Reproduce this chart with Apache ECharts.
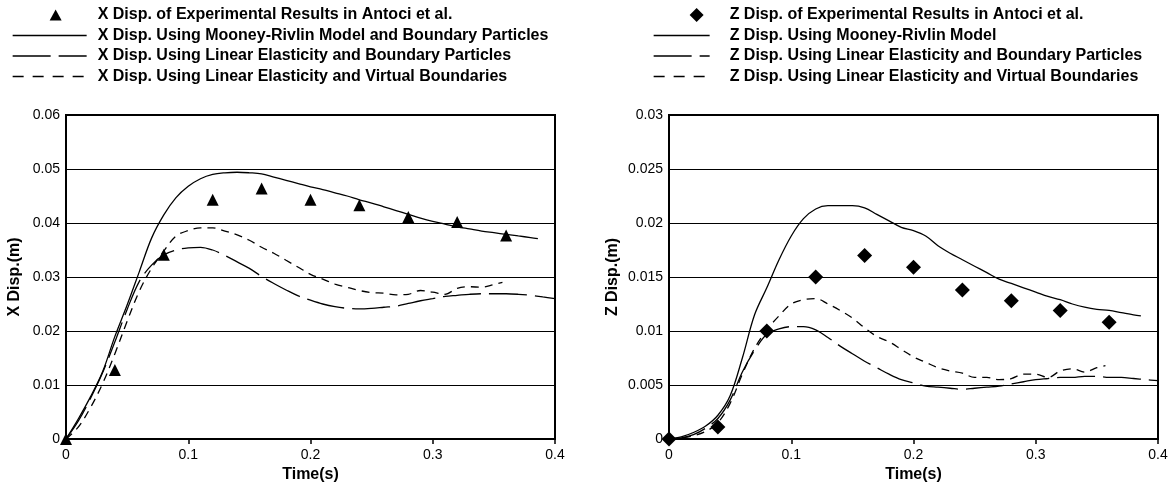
<!DOCTYPE html>
<html>
<head>
<meta charset="utf-8">
<script src="https://cdn.jsdelivr.net/npm/echarts@6/dist/echarts.min.js"></script>
<style>
  html, body { margin: 0; padding: 0; background: #fff; }
  #chart { width: 1173px; height: 490px; }
</style>
</head>
<body>
<div id="chart"></div>
<script>
// ---- Horizontal (X) displacement, m ----
const tExpX = [0, 0.04, 0.08, 0.12, 0.16, 0.20, 0.24, 0.28, 0.32, 0.36];
const xExp  = [0, 0.0128, 0.0341, 0.0443, 0.0464, 0.0443, 0.0433, 0.0411, 0.0402, 0.0377];

const tMooneyX = [0, 0.01, 0.02, 0.03, 0.04, 0.05, 0.06, 0.07, 0.08, 0.09, 0.10, 0.11, 0.12, 0.13, 0.14, 0.15, 0.16, 0.17, 0.18, 0.19, 0.20,
                  0.21, 0.22, 0.23, 0.24, 0.25, 0.26, 0.27, 0.28, 0.29, 0.30, 0.31, 0.32, 0.33, 0.34, 0.35, 0.36, 0.37, 0.38, 0.386];
const xMooney  = [0, 0.0037, 0.0078, 0.0125, 0.0190, 0.0248, 0.0310, 0.0372, 0.0415, 0.0447, 0.0468, 0.0482, 0.0490, 0.0493, 0.0494, 0.0493, 0.0491, 0.0485, 0.0479, 0.0473, 0.0467,
                  0.0462, 0.0456, 0.0450, 0.0443, 0.0437, 0.0430, 0.0423, 0.0416, 0.0409, 0.0403, 0.0398, 0.0393, 0.0389, 0.0385, 0.0382, 0.0379, 0.0376, 0.0373, 0.0371];

const tLinBpX = [0, 0.01, 0.02, 0.03, 0.04, 0.05, 0.06, 0.07, 0.08, 0.09, 0.10, 0.11, 0.12, 0.13, 0.14, 0.15, 0.16, 0.17, 0.18, 0.19, 0.20,
                 0.21, 0.22, 0.23, 0.24, 0.25, 0.26, 0.27, 0.28, 0.29, 0.30, 0.31, 0.32, 0.33, 0.34, 0.35, 0.36, 0.37, 0.38, 0.39, 0.40];
const xLinBp  = [0, 0.0033, 0.0075, 0.0123, 0.0180, 0.0240, 0.0292, 0.0322, 0.0341, 0.0350, 0.0354, 0.0355, 0.0350, 0.0340, 0.0328, 0.0316, 0.0301, 0.0288, 0.0276, 0.0265, 0.0257,
                 0.0250, 0.0245, 0.0242, 0.0241, 0.0242, 0.0244, 0.0246, 0.0251, 0.0256, 0.0260, 0.0264, 0.0266, 0.0268, 0.0269, 0.0269, 0.0269, 0.0268, 0.0266, 0.0263, 0.0260];

const tLinVbX = [0, 0.01, 0.02, 0.03, 0.04, 0.05, 0.06, 0.07, 0.08, 0.09, 0.10, 0.11, 0.12, 0.13, 0.14, 0.15, 0.16, 0.17, 0.18, 0.19, 0.20,
                 0.21, 0.22, 0.23, 0.24, 0.25, 0.26, 0.27, 0.28, 0.29, 0.30, 0.31, 0.32, 0.33, 0.34, 0.35, 0.357];
const xLinVb  = [0, 0.0022, 0.0058, 0.0103, 0.0158, 0.0218, 0.0274, 0.0316, 0.0348, 0.0376, 0.0386, 0.0391, 0.0391, 0.0385, 0.0378, 0.0368, 0.0355, 0.0344, 0.0331, 0.0318, 0.0305,
                 0.0296, 0.0287, 0.0281, 0.0275, 0.0271, 0.0270, 0.0267, 0.0268, 0.0275, 0.0272, 0.0268, 0.0279, 0.0282, 0.0281, 0.0286, 0.0290];

// ---- Vertical (Z) displacement, m ----
const tExpZ = [0, 0.04, 0.08, 0.12, 0.16, 0.20, 0.24, 0.28, 0.32, 0.36];
const zExp  = [0, 0.0011, 0.0100, 0.0150, 0.0170, 0.0159, 0.0138, 0.0128, 0.0119, 0.0108];

const tMooneyZ = [0, 0.01, 0.02, 0.03, 0.04, 0.05, 0.06, 0.07, 0.08, 0.09, 0.10, 0.11, 0.12, 0.13, 0.14, 0.15, 0.16, 0.17, 0.18, 0.19, 0.20,
                  0.21, 0.22, 0.23, 0.24, 0.25, 0.26, 0.27, 0.28, 0.29, 0.30, 0.31, 0.32, 0.33, 0.34, 0.35, 0.36, 0.37, 0.38, 0.386];
const zMooney  = [0, 0.0002, 0.0006, 0.0012, 0.0022, 0.0040, 0.0075, 0.0115, 0.0140, 0.0166, 0.0188, 0.0204, 0.0213, 0.0216, 0.0216, 0.0216, 0.0214, 0.0208, 0.0202, 0.0196, 0.0193,
                  0.0188, 0.0179, 0.0172, 0.0166, 0.0160, 0.0154, 0.0148, 0.0144, 0.0140, 0.0136, 0.0132, 0.0129, 0.0125, 0.0122, 0.0120, 0.0119, 0.0117, 0.0115, 0.0114];

const tLinBpZ = [0, 0.01, 0.02, 0.03, 0.04, 0.05, 0.06, 0.07, 0.08, 0.09, 0.10, 0.11, 0.12, 0.13, 0.14, 0.15, 0.16, 0.17, 0.18, 0.19, 0.20,
                 0.21, 0.22, 0.23, 0.24, 0.25, 0.26, 0.27, 0.28, 0.29, 0.30, 0.31, 0.32, 0.33, 0.34, 0.35, 0.36, 0.37, 0.38, 0.39, 0.40];
const zLinBp  = [0, 0.0001, 0.0004, 0.0010, 0.0019, 0.0036, 0.0062, 0.0082, 0.0097, 0.0102, 0.0104, 0.0104, 0.0101, 0.0094, 0.0086, 0.0079, 0.0072, 0.0066, 0.0060, 0.0055, 0.0052,
                 0.0049, 0.0048, 0.0047, 0.0046, 0.0047, 0.0048, 0.0049, 0.0051, 0.0053, 0.0055, 0.0056, 0.0057, 0.0057, 0.0058, 0.0058, 0.0057, 0.0057, 0.0056, 0.0055, 0.0054];

const tLinVbZ = [0, 0.01, 0.02, 0.03, 0.04, 0.05, 0.06, 0.07, 0.08, 0.09, 0.10, 0.11, 0.12, 0.13, 0.14, 0.15, 0.16, 0.17, 0.18, 0.19, 0.20,
                 0.21, 0.22, 0.23, 0.24, 0.25, 0.26, 0.27, 0.28, 0.29, 0.30, 0.31, 0.32, 0.33, 0.34, 0.35, 0.357];
const zLinVb  = [0, 0.0001, 0.0003, 0.0007, 0.0015, 0.0033, 0.0060, 0.0084, 0.0101, 0.0114, 0.0125, 0.0129, 0.0130, 0.0125, 0.0119, 0.0112, 0.0103, 0.0095, 0.0090, 0.0083, 0.0076,
                 0.0071, 0.0066, 0.0063, 0.0061, 0.0057, 0.0057, 0.0055, 0.0056, 0.0060, 0.0060, 0.0057, 0.0063, 0.0065, 0.0062, 0.0066, 0.0068];

// ---- Axis tick labels ----
const timeTicks = ['0', '0.1', '0.2', '0.3', '0.4'];
const xDispTicks = ['0', '0.01', '0.02', '0.03', '0.04', '0.05', '0.06'];
const zDispTicks = ['0', '0.005', '0.01', '0.015', '0.02', '0.025', '0.03'];

// ---- Series names ----
const namesX = [
  'X Disp. of Experimental Results in Antoci et al.',
  'X Disp. Using Mooney-Rivlin Model and Boundary Particles',
  'X Disp. Using Linear Elasticity and Boundary Particles',
  'X Disp. Using Linear Elasticity and Virtual Boundaries'
];
const namesZ = [
  'Z Disp. of Experimental Results in Antoci et al.',
  'Z Disp. Using Mooney-Rivlin Model',
  'Z Disp. Using Linear Elasticity and Boundary Particles',
  'Z Disp. Using Linear Elasticity and Virtual Boundaries'
];

const FONT = '"Liberation Sans", Arial, sans-serif';
const pairs = (t, v) => t.map((x, i) => [x, v[i]]);

const LONG_DASH = [38, 8];
const SHORT_DASH = [8, 6];
// the legend samples use a slightly looser rhythm
const LEGEND_DASHES = ['solid', 'solid', [38, 8], [11, 9]];

// Legend marker shapes; the leading move-to widens the box so the marker sits right of centre
const TRIANGLE_ICON = 'path://M-12,11 M6,0 L12,11 L0,11 Z';
const DIAMOND_ICON = 'path://M-30,7 M7,0 L14,7 L7,14 L0,7 Z';

function lineSeries(name, idx, t, v, dash) {
  return {
    name, type: 'line', xAxisIndex: idx, yAxisIndex: idx,
    data: pairs(t, v), showSymbol: false, symbol: 'none', smooth: 0.35,
    lineStyle: { color: '#000', width: 1.3, type: dash || 'solid' },
    itemStyle: { color: '#000' },
    silent: true, z: 3
  };
}
function expSeries(name, idx, t, v, symbol, size) {
  return {
    name, type: 'scatter', xAxisIndex: idx, yAxisIndex: idx,
    data: pairs(t, v), symbol, symbolSize: size,
    itemStyle: { color: '#000', opacity: 1 }, silent: true, z: 5
  };
}

function xAxisFor(idx) {
  return {
    gridIndex: idx, type: 'value', min: 0, max: 0.4, interval: 0.1,
    name: 'Time(s)', nameLocation: 'middle', nameGap: 27,
    nameTextStyle: { fontFamily: FONT, fontWeight: 'bold', fontSize: 16, color: '#000' },
    axisLine: { show: true, lineStyle: { color: '#000', width: 2 } },
    axisTick: { show: true, length: 5, lineStyle: { color: '#000', width: 1.5 } },
    axisLabel: { color: '#000', fontFamily: FONT, fontSize: 14, margin: 9,
                 formatter: (val, i) => timeTicks[i] },
    splitLine: { show: false }
  };
}
function yAxisFor(idx, max, interval, ticks, name, gap) {
  return {
    gridIndex: idx, type: 'value', min: 0, max, interval,
    name, nameLocation: 'middle', nameGap: gap, nameRotate: 90,
    nameTextStyle: { fontFamily: FONT, fontWeight: 'bold', fontSize: 16, color: '#000' },
    axisLine: { show: true, lineStyle: { color: '#000', width: 2 } },
    axisTick: { show: false },
    axisLabel: { color: '#000', fontFamily: FONT, fontSize: 14, margin: 6,
                 formatter: (val, i) => ticks[i] },
    splitLine: { show: true, lineStyle: { color: '#000', width: 1.2 } }
  };
}
function legendFor(names, markerIcon, left, itemWidth, itemHeight, textPad) {
  return {
    orient: 'vertical', left, top: 2,
    data: names.map((n, i) => i === 0
      ? { name: n, icon: markerIcon, itemStyle: { color: '#000', opacity: 1 } }
      : { name: n, itemStyle: { opacity: 0 },
          lineStyle: { color: '#000', width: 1.3, opacity: 1, type: LEGEND_DASHES[i] } }),
    itemWidth, itemHeight, itemGap: 4.5,
    selectedMode: false,
    symbolKeepAspect: true,
    textStyle: { fontFamily: FONT, fontWeight: 'bold', fontSize: 16, lineHeight: 16, color: '#000', padding: [0, 0, 0, textPad] }
  };
}

const chart = echarts.init(document.getElementById('chart'), null, { renderer: 'canvas' });
chart.setOption({
  backgroundColor: '#fff',
  animation: false,
  legend: [
    legendFor(namesX, TRIANGLE_ICON, 7, 74, 11, 6),
    legendFor(namesZ, DIAMOND_ICON, 648, 56, 14, 15)
  ],
  grid: [
    { left: 66, top: 115, width: 489, height: 324, show: true, borderColor: '#000', borderWidth: 2, backgroundColor: 'transparent' },
    { left: 669, top: 115, width: 489, height: 324, show: true, borderColor: '#000', borderWidth: 2, backgroundColor: 'transparent' }
  ],
  xAxis: [xAxisFor(0), xAxisFor(1)],
  yAxis: [
    yAxisFor(0, 0.06, 0.01, xDispTicks, 'X Disp.(m)', 43),
    yAxisFor(1, 0.03, 0.005, zDispTicks, 'Z Disp.(m)', 48)
  ],
  series: [
    expSeries(namesX[0], 0, tExpX, xExp, 'triangle', 12),
    lineSeries(namesX[1], 0, tMooneyX, xMooney),
    lineSeries(namesX[2], 0, tLinBpX, xLinBp, LONG_DASH),
    lineSeries(namesX[3], 0, tLinVbX, xLinVb, SHORT_DASH),
    expSeries(namesZ[0], 1, tExpZ, zExp, 'diamond', 15),
    lineSeries(namesZ[1], 1, tMooneyZ, zMooney),
    lineSeries(namesZ[2], 1, tLinBpZ, zLinBp, LONG_DASH),
    lineSeries(namesZ[3], 1, tLinVbZ, zLinVb, SHORT_DASH)
  ]
});
</script>
</body>
</html>
